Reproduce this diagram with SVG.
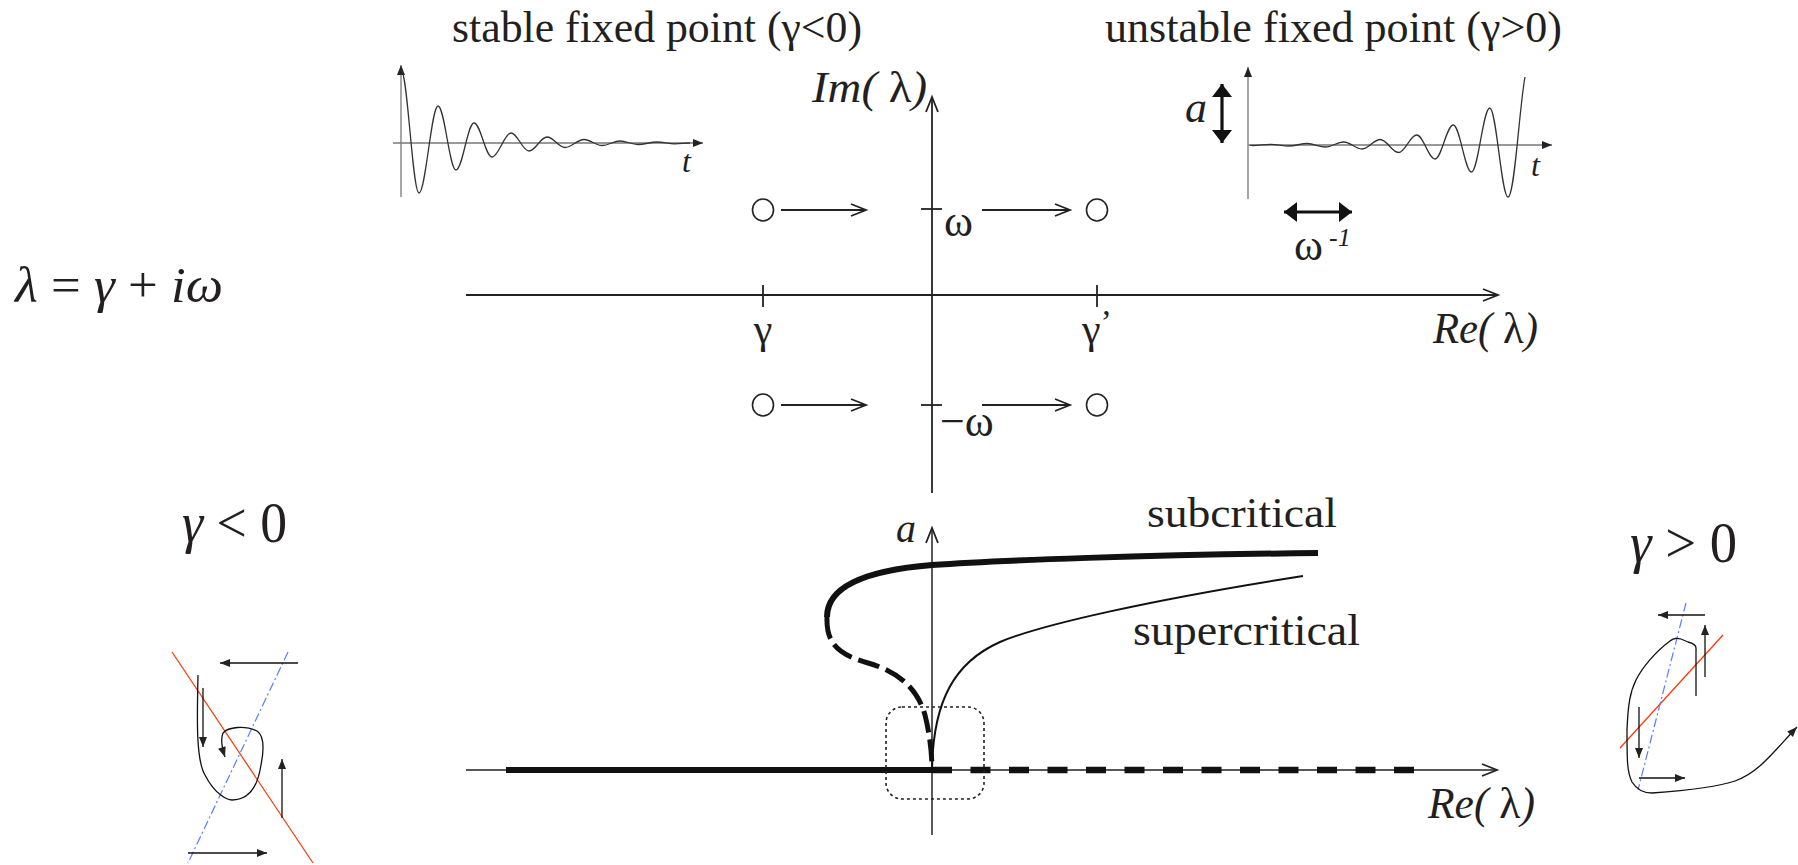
<svg xmlns="http://www.w3.org/2000/svg" width="1798" height="865" viewBox="0 0 1798 865">
<style>
text{font-family:"Liberation Serif","Times New Roman",serif;fill:#231f20}
.it{font-style:italic}
.up{font-style:normal}
.ax{stroke:#222;stroke-width:1.8;fill:none}
.wax{stroke:#777;stroke-width:1.3;fill:none}
.wave{stroke:#333;stroke-width:1.3;fill:none}
.thin{stroke:#111;stroke-width:1.3;fill:none}
.red{stroke:#ff3300;stroke-width:1.2;fill:none}
.blue{stroke:#5a7cff;stroke-width:1.2;fill:none;stroke-dasharray:9 3 2 3}
</style>
<defs>
<marker id="open" markerUnits="userSpaceOnUse" markerWidth="18" markerHeight="14" refX="15" refY="6" orient="auto" overflow="visible">
<path d="M0,0 L15,6 L0,12" fill="none" stroke="#222" stroke-width="1.8"/>
</marker>
<marker id="fill" markerUnits="userSpaceOnUse" markerWidth="12" markerHeight="10" refX="10" refY="4" orient="auto" overflow="visible">
<path d="M0,0 L10,4 L0,8 Z" fill="#222"/>
</marker>
<marker id="big" markerUnits="userSpaceOnUse" markerWidth="16" markerHeight="22" refX="13" refY="10" orient="auto-start-reverse" overflow="visible">
<path d="M0,0 L13,10 L0,20 Z" fill="#111"/>
</marker>
</defs>

<g id="equation">
<text x="15" y="302" font-size="50" textLength="208" lengthAdjust="spacingAndGlyphs"><tspan class="it">λ</tspan> = <tspan class="it">γ</tspan> + <tspan class="it">iω</tspan></text>
</g>

<g id="stable-wave">
<text x="452" y="42" font-size="44" textLength="410" lengthAdjust="spacingAndGlyphs">stable fixed point (γ&lt;0)</text>
<line class="wax" x1="401" y1="197" x2="401" y2="65" marker-end="url(#fill)"/>
<line class="wax" x1="393" y1="143" x2="703" y2="143" marker-end="url(#fill)"/>
<path class="wave" d="M401,70 C407.6,70 412.4,193 419,193 C425.6,193 431.4,106 438,106 C444.6,106 449.4,170 456,170 C462.6,170 467.4,123 474,123 C480.6,123 485.4,157 492,157 C498.6,157 504.4,133 511,133 C517.6,133 522.4,151 529,151 C535.6,151 540.4,137 547,137 C553.6,137 558.4,147.5 565,147.5 C571.6,147.5 577.4,139.5 584,139.5 C590.6,139.5 595.4,145.5 602,145.5 C608.6,145.5 613.4,141 620,141 C626.6,141 631.4,144.5 638,144.5 C644.6,144.5 650.4,142 657,142 C663.6,142 668.4,143.8 675,143.8 C680,143.8 685,143 690,143"/>
<text class="it" x="682" y="172" font-size="32">t</text>
</g>

<g id="unstable-wave">
<text x="1105" y="42" font-size="44" textLength="457" lengthAdjust="spacingAndGlyphs">unstable fixed point (γ&gt;0)</text>
<line class="wax" x1="1248" y1="199" x2="1248" y2="67" marker-end="url(#fill)"/>
<line class="wax" x1="1248" y1="145" x2="1552" y2="145" marker-end="url(#fill)"/>
<path class="wave" d="M1250,145 C1250,145 1250,145.5 1252.5,145.5 C1259,145.5 1264,144.3 1270.75,144.3 C1277.4,144.3 1282.4,146 1289,146 C1295.6,146 1300.6,143.5 1307.25,143.5 C1313.9,143.5 1318.9,147 1325.5,147 C1332.1,147 1337.1,142 1343.75,142 C1350.4,142 1355.4,149 1362,149 C1368.6,149 1373.6,139.5 1380.25,139.5 C1386.9,139.5 1391.9,152.5 1398.5,152.5 C1405.1,152.5 1410.1,135 1416.75,135 C1423.4,135 1428.4,159 1435,159 C1441.6,159 1446.6,125 1453.25,125 C1459.9,125 1464.9,172 1471.5,172 C1478.1,172 1483.1,108 1489.75,108 C1496.4,108 1501.4,197 1508,197 C1514.6,197 1519,110 1525,77"/>
<text class="it" x="1531" y="176" font-size="32">t</text>
<text class="it" x="1185" y="122" font-size="44">a</text>
<line x1="1222" y1="84" x2="1222" y2="143" stroke="#111" stroke-width="3.2" marker-start="url(#big)" marker-end="url(#big)"/>
<line x1="1284" y1="212" x2="1352" y2="212" stroke="#111" stroke-width="3.2" marker-start="url(#big)" marker-end="url(#big)"/>
<text x="1294" y="260" font-size="44">ω</text>
<text class="it" x="1329" y="246" font-size="26">-1</text>
</g>

<g id="complex-plane">
<line class="ax" x1="466" y1="295" x2="1498" y2="295" marker-end="url(#open)"/>
<line class="ax" x1="932" y1="493" x2="932" y2="97" marker-end="url(#open)"/>
<line class="ax" x1="763" y1="285" x2="763" y2="307"/>
<line class="ax" x1="1097" y1="285" x2="1097" y2="307"/>
<line class="ax" x1="921" y1="209" x2="942" y2="209"/>
<line class="ax" x1="921" y1="405" x2="942" y2="405"/>
<text class="it" x="812" y="102" font-size="44" textLength="115" lengthAdjust="spacingAndGlyphs">Im( <tspan class="up">λ</tspan>)</text>
<text class="it" x="1433" y="343" font-size="44" textLength="105" lengthAdjust="spacingAndGlyphs">Re( <tspan class="up">λ</tspan>)</text>
<text x="944" y="236" font-size="44">ω</text>
<text x="940" y="436" font-size="44">−ω</text>
<text x="763" y="343" font-size="42" text-anchor="middle">γ</text>
<text x="1097" y="343" font-size="42" text-anchor="middle">γ<tspan dy="-10" font-size="34">’</tspan></text>
</g>

<g id="node-stable-upper"><ellipse cx="763" cy="210" rx="10.5" ry="11" fill="none" stroke="#222" stroke-width="1.6"/></g>
<g id="node-stable-lower"><ellipse cx="763" cy="405" rx="10.5" ry="11" fill="none" stroke="#222" stroke-width="1.6"/></g>
<g id="node-unstable-upper"><ellipse cx="1097" cy="210" rx="10.5" ry="11" fill="none" stroke="#222" stroke-width="1.6"/></g>
<g id="node-unstable-lower"><ellipse cx="1097" cy="405" rx="10.5" ry="11" fill="none" stroke="#222" stroke-width="1.6"/></g>

<g id="connectors">
<line class="ax" x1="781" y1="210" x2="866" y2="210" marker-end="url(#open)"/>
<line class="ax" x1="982" y1="210" x2="1070" y2="210" marker-end="url(#open)"/>
<line class="ax" x1="781" y1="405" x2="866" y2="405" marker-end="url(#open)"/>
<line class="ax" x1="982" y1="405" x2="1070" y2="405" marker-end="url(#open)"/>
</g>

<g id="bifurcation">
<line x1="466" y1="770" x2="1497" y2="770" stroke="#222" stroke-width="1.5" marker-end="url(#open)"/>
<line x1="932" y1="835" x2="932" y2="528" stroke="#222" stroke-width="1.5" marker-end="url(#open)"/>
<line x1="506" y1="770" x2="932" y2="770" stroke="#111" stroke-width="6"/>
<line x1="932" y1="770" x2="1416" y2="770" stroke="#111" stroke-width="6.5" stroke-dasharray="20 18.5"/>
<path d="M1318,553 C1150,555 1000,560 932,565 C870,570 827,585 827,617" fill="none" stroke="#111" stroke-width="6"/>
<path d="M827,617 C826,645 840,655 868,663 C900,672 918,690 925,715 C930,735 932,755 932,770" fill="none" stroke="#111" stroke-width="5" stroke-dasharray="22 7"/>
<path d="M932,770 C933,700 955,662 1000,642 C1040,625 1150,600 1303,576" fill="none" stroke="#111" stroke-width="2"/>
<rect x="886" y="707" width="98" height="92" rx="16" ry="16" fill="none" stroke="#222" stroke-width="1.6" stroke-dasharray="3 3"/>
<text class="it" x="896" y="542" font-size="40">a</text>
<text x="1147" y="527" font-size="42" textLength="190" lengthAdjust="spacingAndGlyphs">subcritical</text>
<text x="1133" y="645" font-size="44" textLength="227" lengthAdjust="spacingAndGlyphs">supercritical</text>
<text class="it" x="1428" y="818" font-size="44" textLength="107" lengthAdjust="spacingAndGlyphs">Re( <tspan class="up">λ</tspan>)</text>
</g>

<g id="phase-stable">
<text x="182" y="542" font-size="58" textLength="105" lengthAdjust="spacingAndGlyphs"><tspan class="it">γ</tspan> &lt; 0</text>
<line class="red" x1="172" y1="652" x2="313" y2="863"/>
<line class="blue" x1="288" y1="652" x2="188" y2="863"/>
<line class="thin" x1="298" y1="663" x2="220" y2="663" marker-end="url(#fill)"/>
<line class="thin" x1="203" y1="688" x2="203" y2="747" marker-end="url(#fill)"/>
<line class="thin" x1="282" y1="818" x2="282" y2="759" marker-end="url(#fill)"/>
<line class="thin" x1="188" y1="853" x2="267" y2="853" marker-end="url(#fill)"/>
<path class="thin" d="M198,675 C197,720 196,760 205,775 C215,795 228,800 232,800 C250,800 258,785 261,765 C265,745 263,735 257,731 C245,725 228,727 223,733 C220,740 222,748 225,757" marker-end="url(#fill)"/>
</g>

<g id="phase-unstable">
<text x="1630" y="562" font-size="58" textLength="107" lengthAdjust="spacingAndGlyphs"><tspan class="it">γ</tspan> &gt; 0</text>
<line class="red" x1="1620" y1="748" x2="1723" y2="635"/>
<line class="blue" x1="1686" y1="603" x2="1638" y2="790"/>
<line class="thin" x1="1705" y1="615" x2="1658" y2="615" marker-end="url(#fill)"/>
<line class="thin" x1="1705" y1="677" x2="1705" y2="625" marker-end="url(#fill)"/>
<line class="thin" x1="1639" y1="707" x2="1639" y2="758" marker-end="url(#fill)"/>
<line class="thin" x1="1639" y1="778" x2="1685" y2="778" marker-end="url(#fill)"/>
<path class="thin" d="M1696,696 L1696,648 C1696,645 1692,643 1688,642 L1681,639 C1678,638 1673,638 1670,641 C1655,652 1642,668 1636,680 C1630,692 1628,705 1627,730 C1627,760 1627,772 1632,782 C1637,790 1645,793 1652,793 C1680,791 1715,788 1735,781 C1760,772 1775,750 1797,727" marker-end="url(#fill)"/>
</g>
</svg>
